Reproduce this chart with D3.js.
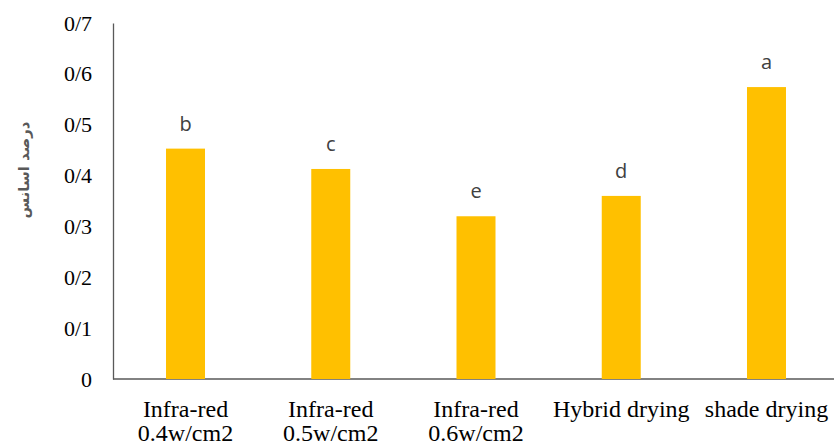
<!DOCTYPE html>
<html lang="en">
<head>
    <meta charset="UTF-8">
    <title>Essential oil percentage</title>
    <script type="text/javascript" src="https://d3js.org/d3.v7.min.js"></script>
    <style>
        body { margin:0; background:#fff; }
        .tick text { font-family:"Liberation Serif","Times New Roman",serif; font-size:22px; fill:#000; }
    </style>
</head>
<body>
<script type="text/javascript">
    var categories = [["Infra-red","0.4w/cm2"],["Infra-red","0.5w/cm2"],["Infra-red","0.6w/cm2"],["Hybrid drying"],["shade drying"]];
    var values = [0.453, 0.413, 0.320, 0.360, 0.574];
    var letters = ["b","c","e","d","a"];
    var yTicks = [0, 0.1, 0.2, 0.3, 0.4, 0.5, 0.6, 0.7];
    var yTickLabels = ["0","0/1","0/2","0/3","0/4","0/5","0/6","0/7"];

    var width = 834, height = 444;
    var plotLeft = 113, plotRight = 834, plotTop = 23, plotBottom = 379;

    var svg = d3.select("body").append("svg")
                .attr("width", width).attr("height", height);

    // the category bands run a little past the visible axis end
    var xScale = d3.scaleBand()
                   .domain(d3.range(categories.length))
                   .range([plotLeft, 839])
                   .paddingInner(0.7315).paddingOuter(0.365);

    var yScale = d3.scaleLinear()
                   .domain([0, 0.7])
                   .range([plotBottom, plotTop]);

    // y axis: line only, labels on the left
    var yAxis = d3.axisLeft(yScale).tickValues(yTicks)
                  .tickSize(0).tickPadding(21)
                  .tickFormat(function(d, i){ return yTickLabels[i]; });
    var yAxisGroup = svg.append("g").attr("transform", "translate(" + plotLeft + ",0)").call(yAxis);
    yAxisGroup.select(".domain").attr("stroke", "#595959").attr("stroke-width", 1.3);

    // x axis line
    svg.append("line")
       .attr("x1", plotLeft).attr("x2", plotRight)
       .attr("y1", yScale(0)).attr("y2", yScale(0))
       .attr("stroke", "#595959").attr("stroke-width", 1.3);

    svg.selectAll("rect.bar").data(values).enter().append("rect")
       .attr("class", "bar")
       .attr("x", function(d, i){ return xScale(i); })
       .attr("y", function(d){ return yScale(d); })
       .attr("width", xScale.bandwidth())
       .attr("height", function(d){ return yScale(0) - yScale(d); })
       .attr("fill", "#FFC000");

    svg.selectAll("text.letter").data(values).enter().append("text")
       .attr("class", "letter")
       .attr("x", function(d, i){ return xScale(i) + xScale.bandwidth()/2; })
       .attr("y", function(d){ return yScale(d) - 18; })
       .attr("text-anchor", "middle")
       .style("font-family", "'Open Sans', sans-serif")
       .style("font-size", "20px")
       .style("fill", "#404040")
       .text(function(d, i){ return letters[i]; });

    // category labels (one or two lines)
    var catText = svg.selectAll("text.cat").data(categories).enter().append("text")
       .attr("class", "cat")
       .attr("text-anchor", "middle")
       .style("font-family", "'Liberation Serif','Times New Roman',serif")
       .style("font-size", "24px")
       .style("fill", "#000");
    catText.selectAll("tspan").data(function(d, i){ return d.map(function(s){ return {s:s, i:i}; }); })
       .enter().append("tspan")
       .attr("x", function(d){ return xScale(d.i) + xScale.bandwidth()/2; })
       .attr("y", function(d, j){ return 416.5 + j*24.5; })
       .text(function(d){ return d.s; });

    // y axis title
    svg.append("text")
       .attr("transform", "translate(24,170) rotate(-90)")
       .attr("text-anchor", "middle")
       .attr("dominant-baseline", "middle")
       .style("font-family", "'DejaVu Sans','Noto Sans',sans-serif")
       .style("font-size", "15px")
       .style("font-weight", "bold")
       .style("fill", "#595959")
       .text("درصد اسانس");
</script>
</body>
</html>
